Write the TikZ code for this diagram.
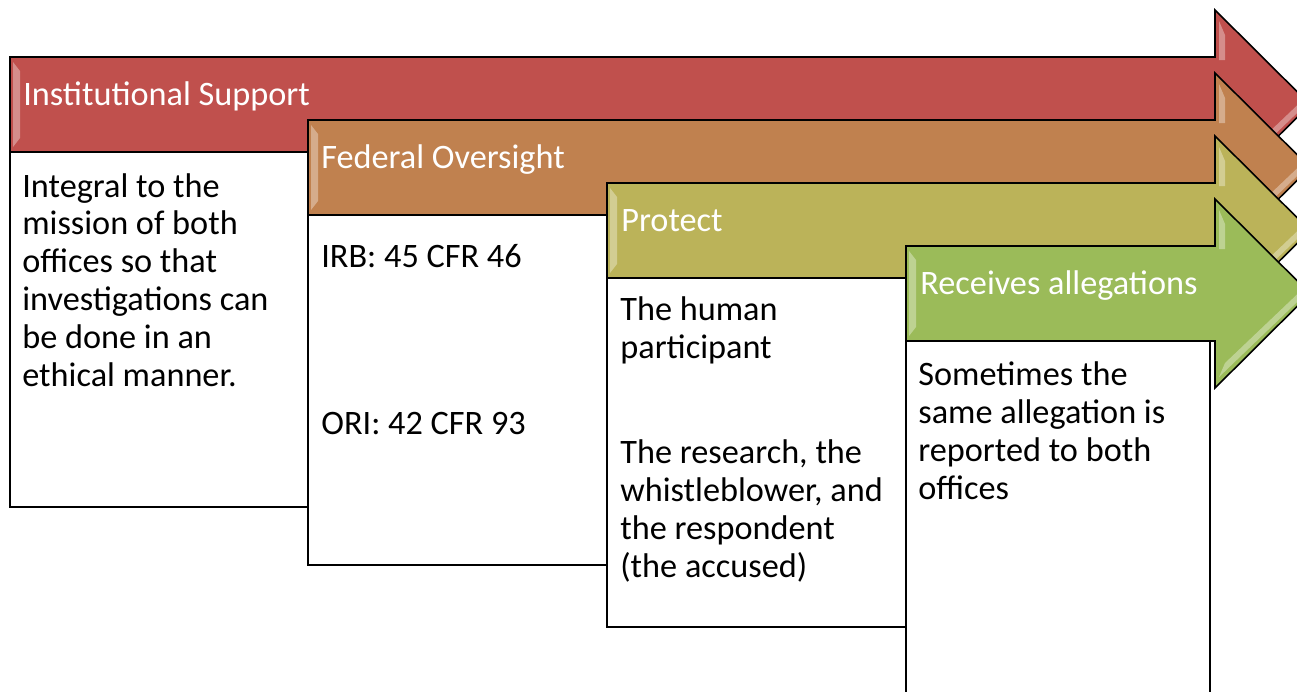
\documentclass[tikz,border=0pt]{standalone}
\usepackage{fontspec}
\setmainfont{Carlito}
\usetikzlibrary{calc}

\definecolor{instred}{HTML}{C0504D}
\definecolor{fedorange}{HTML}{C0814F}
\definecolor{protolive}{HTML}{BBB359}
\definecolor{recgreen}{HTML}{9BBB59}

\tikzset{
  steparrow/.style={draw=black, line width=0.9pt, line join=miter},
  infobox/.style={draw=black, line width=0.9pt, fill=white},
  bevel/.style={fill=white, opacity=0.35},
  headtext/.style={anchor=base west, inner sep=0pt, text=white,
    font=\fontsize{19.5}{21.5}\selectfont},
  % multi-line texts sit on the baseline of their last line
  bodytext/.style={anchor=base west, inner sep=0pt, align=left,
    font=\fontsize{19.5}{21.5}\selectfont},
}

\begin{document}
\begin{tikzpicture}[x=0.02cm, y=-0.02cm]
    % Page size
    \useasboundingbox (0,0) rectangle (1297,691);
    \clip (0,0) rectangle (1297,691);

    % Head of the arrows
    \pgfmathsetmacro{\headx}{1215}
    \pgfmathsetmacro{\tipx}{1310}

    % Draw the four steps: arrow first, then its box
    \foreach \name/\col/\left/\top/\boxbottom/\boxright in {
        inst/instred/10/57/507/308,
        fed/fedorange/308/120/565/607,
        prot/protolive/607/183/627/906,
        rec/recgreen/906/246/720/1210} {
      \pgfmathsetmacro{\bot}{\top+95}
      \draw[steparrow, fill=\col] (\left,\top) -- (\headx,\top) -- (\headx,\top-47)
        -- (\tipx,\top+47.5) -- (\headx,\bot+47) -- (\headx,\bot) -- (\left,\bot) -- cycle;
      % bevel highlights
      \fill[bevel] (\left+3,\top+5) -- (\left+10,\top+14) -- (\left+10,\bot-14) -- (\left+3,\bot-5) -- cycle;
      \fill[bevel] (\headx+4,\top-36) -- (\headx+10,\top-22) -- (\headx+10,\top+3) -- (\headx+4,\top+3) -- cycle;
      \fill[bevel] (\tipx-12,\top+47.5) -- (\headx+10,\bot+22) -- (\headx+4,\bot+36) -- (\tipx-4,\top+47.5) -- cycle;
      \draw[infobox] (\left,\bot) rectangle (\boxright,\boxbottom);
    }

    % Arrow labels
    \node[headtext] (instlabel) at (23,105) {Institutional Support};
    \node[headtext] (fedlabel) at (321,168) {Federal Oversight};
    \node[headtext] (protlabel) at (621,231) {Protect};
    \node[headtext] (reclabel) at (920,294) {Receives allegations};

    % Box texts
    \node[bodytext] (integral) at (22,386)
      {Integral to the\\mission of both\\offices so that\\investigations can\\be done in an\\ethical manner.};
    \node[bodytext] (irb) at (321,267) {IRB: 45 CFR 46};
    \node[bodytext] (ori) at (321,434) {ORI: 42 CFR 93};
    \node[bodytext] (human) at (620,358) {The human\\participant};
    \node[bodytext] (research) at (620,577)
      {The research, the\\whistleblower, and\\the respondent\\(the accused)};
    \node[bodytext] (sometimes) at (918,499)
      {Sometimes the\\same allegation is\\reported to both\\offices};
\end{tikzpicture}
\end{document}
